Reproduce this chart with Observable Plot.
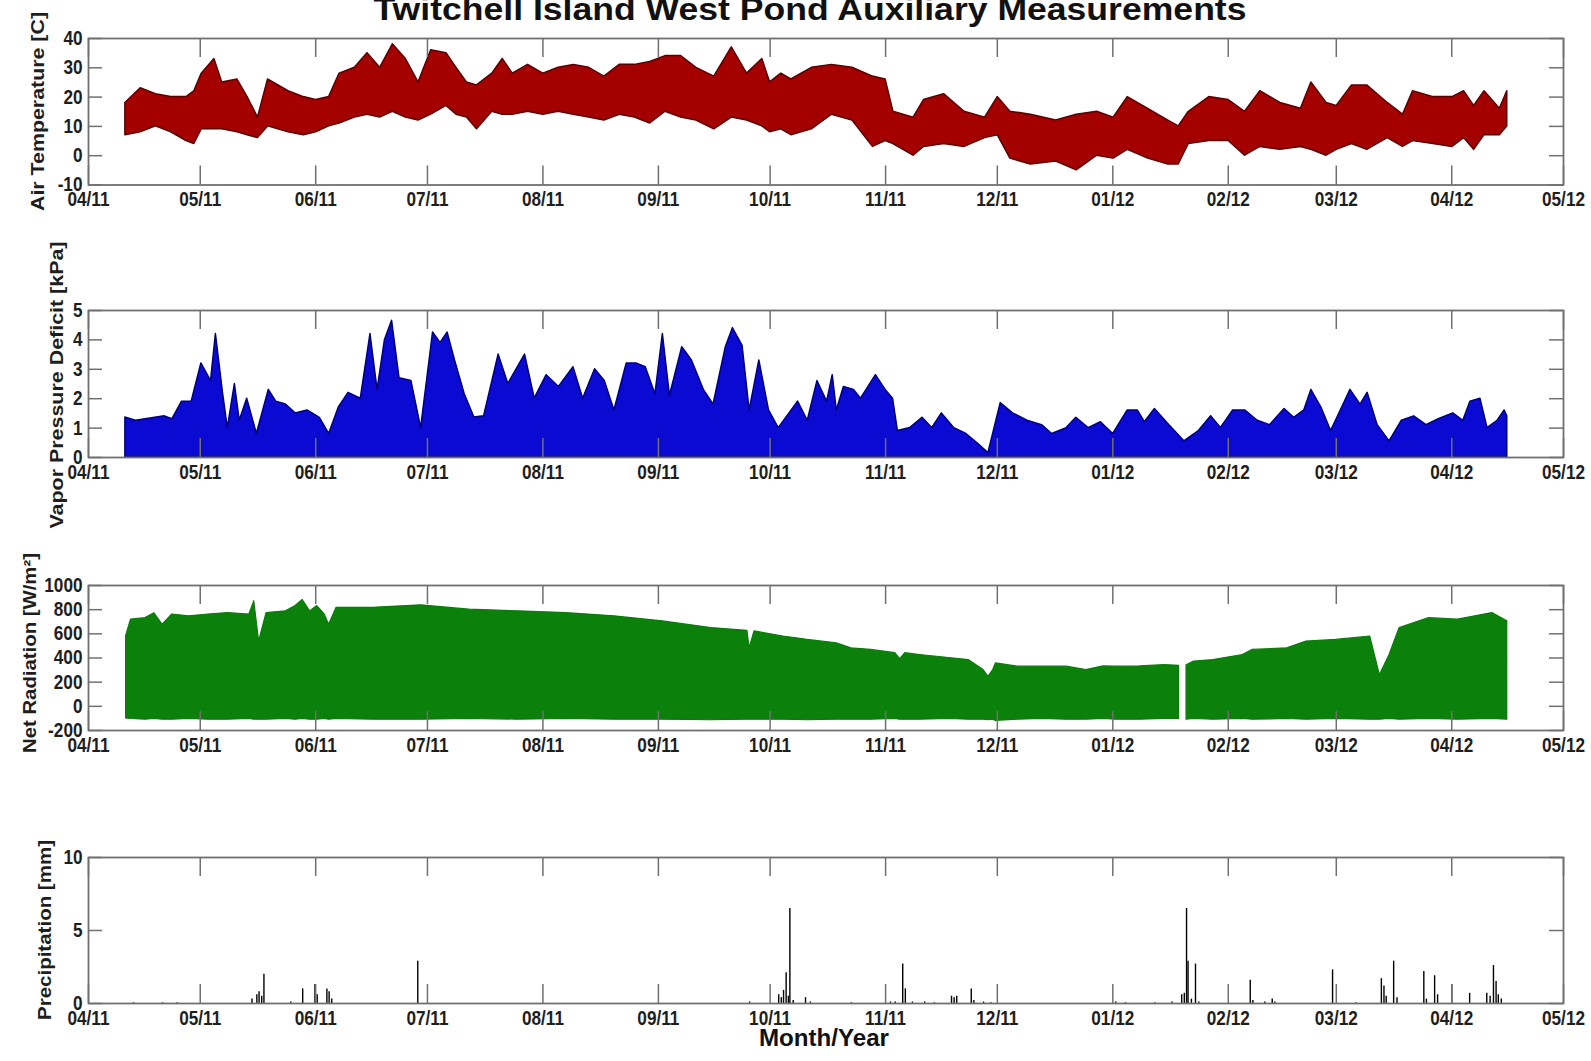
<!DOCTYPE html>
<html>
<head>
<meta charset="utf-8">
<script src="https://cdn.jsdelivr.net/npm/d3@7"></script>
<script src="https://cdn.jsdelivr.net/npm/@observablehq/plot@0.6"></script>
<style>
  html, body { margin: 0; padding: 0; background: #fff; }
  #page { position: relative; width: 1591px; height: 1061px; overflow: hidden; background: #fff; }
  #page svg { position: absolute; left: 0; }
</style>
</head>
<body>
<div id="page"></div>
<script>
// ---------------- DATA (days since 2011-04-01) ----------------
// Air temperature envelope: [day, low, high] (°C)
const airTemp = [
 [9.9,7,18],[14.0,8,23],[18.1,10,21],[22.2,8,20],[26.3,5,20],[28.4,4,22],[30.4,9,28],[33.8,9,33],[35.9,9,25],
 [40.0,8,26],[42.7,7,20],[45.5,6,13],[48.2,10,26],[53.7,8,22],[57.8,7,20],[61.1,8,19],[64.6,10,20],[67.4,11,28],
 [71.5,13,30],[74.9,14,35],[78.3,13,30],[81.7,15,38],[85.2,13,33],[88.6,12,25],[92.0,14,36],[96.1,17,35],[98.8,14,30],
 [101.6,13,25],[104.3,9,24],[108.4,15,28],[111.2,14,33],[113.9,14,28],[118.0,15,31],[122.1,14,28],[126.2,15,30],
 [130.3,14,31],[134.4,13,30],[138.5,12,27],[142.6,14,31],[146.7,13,31],[150.8,11,32],[154.9,15,34],[159.1,13,34],
 [163.2,12,30],[168.0,9,27],[172.7,13,37],[176.8,12,28],[180.9,10,33],[183.0,8,25],[186.0,9,28],[188.7,7,26],
 [194.2,9,30],[199.6,14,31],[205.1,12,30],[210.6,3,27],[214.0,5,26],[216.1,4,15],[221.5,0,13],[224.3,3,19],
 [229.7,4,21],[235.2,3,15],[240.7,6,13],[244.1,7,20],[247.5,-1,15],[253.0,-3,14],[259.8,-2,12],[265.3,-5,14],
 [270.8,0,15],[275.2,-1,13],[279.0,2,20],[284.5,-1,16],[289.9,-3,12],[292.7,-3,10],[295.4,4,15],[300.9,5,20],
 [306.1,5,19],[310.5,0,15],[314.6,3,22],[320.0,2,18],[325.5,3,16],[328.3,2,25],[332.4,0,18],[335.1,2,17],
 [339.2,4,24],[343.3,2,24],[348.8,6,18],[352.9,3,14],[355.6,5,22],[361.1,4,20],[366.2,3,20],[369.3,6,22],
 [372.0,2,17],[374.8,7,22],[378.9,7,16],[380.9,10,22]
];

// Vapor pressure deficit upper envelope: [day, high] (kPa)
const vpd = [
 [9.9,1.36],[12.7,1.25],[15.3,1.3],[17.9,1.35],[20.5,1.4],[22.5,1.3],[25.1,1.9],[27.7,1.9],[30.3,3.2],[32.9,2.6],
 [34.2,4.2],[36.1,2.2],[37.4,1.0],[39.3,2.5],[40.6,1.25],[42.6,2.0],[45.2,0.8],[48.4,2.3],[50.4,1.9],[53.0,1.8],
 [55.6,1.5],[58.8,1.6],[62.1,1.35],[64.6,0.8],[67.2,1.7],[69.8,2.2],[73.1,2.0],[75.7,4.2],[77.6,2.3],[79.6,4.0],
 [81.5,4.65],[83.5,2.7],[86.7,2.6],[89.3,1.0],[92.5,4.25],[94.5,3.9],[96.4,4.25],[98.4,3.3],[101.0,2.15],[103.6,1.36],
 [106.2,1.4],[110.1,3.5],[112.7,2.5],[117.2,3.5],[119.8,2.0],[123.0,2.8],[126.3,2.4],[130.2,3.07],[132.8,2.0],
 [136.0,3.0],[138.6,2.6],[141.2,1.6],[144.5,3.2],[147.1,3.2],[149.6,3.07],[152.2,2.15],[154.2,4.2],[156.1,2.1],
 [159.4,3.75],[162.0,3.3],[165.2,2.3],[167.8,1.8],[171.1,3.75],[173.0,4.4],[175.6,3.8],[177.5,1.6],[180.1,3.3],
 [182.7,1.6],[185.3,1.0],[190.5,1.9],[193.1,1.25],[195.7,2.6],[198.3,1.9],[199.8,2.8],[200.9,1.6],[202.8,2.4],
 [205.5,2.3],[207.4,2.0],[209.4,2.4],[211.4,2.8],[214.0,2.3],[216.0,2.0],[217.3,0.9],[220.6,1.0],[223.9,1.35],
 [226.5,1.0],[229.1,1.5],[232.4,1.0],[235.7,0.8],[239.0,0.45],[241.6,0.15],[244.9,1.85],[248.2,1.5],[252.1,1.25],
 [256.0,1.1],[258.7,0.8],[262.6,1.0],[265.2,1.35],[268.5,1.0],[271.8,1.2],[275.1,0.8],[279.0,1.6],[281.7,1.6],
 [283.6,1.2],[286.3,1.65],[290.2,1.1],[294.2,0.55],[298.1,0.9],[301.4,1.4],[304.0,1.0],[307.3,1.6],[310.6,1.6],
 [313.9,1.25],[317.2,1.1],[321.1,1.65],[323.7,1.35],[326.4,1.6],[328.3,2.3],[331.0,1.7],[333.6,0.9],[336.2,1.6],
 [338.8,2.3],[341.5,1.8],[343.4,2.2],[346.1,1.1],[349.3,0.55],[352.6,1.25],[355.9,1.4],[359.2,1.1],[362.5,1.3],
 [366.4,1.5],[369.1,1.25],[371.0,1.9],[373.7,2.0],[375.6,1.0],[378.3,1.25],[380.2,1.6],[380.9,1.4]
];

// Net radiation envelope: [day, low, high] (W/m²); null = no data
const netRad = [
 [10.1,-100,580],[11.4,-105,717],[15.3,-110,730],[17.7,-105,770],[19.9,-110,675],[22.5,-110,760],[27.0,-105,745],
 [32.2,-110,760],[37.4,-110,772],[43.2,-105,760],[44.5,-110,870],[45.8,-110,535],[47.8,-110,772],[53.0,-105,786],
 [55.6,-110,830],[57.5,-105,880],[59.5,-110,786],[61.4,-110,830],[63.4,-105,760],[64.6,-110,675],[66.6,-105,815],
 [76.3,-110,815],[89.3,-110,836],[102.3,-105,800],[115.3,-110,786],[128.2,-105,772],[141.2,-110,745],[154.2,-110,703],
 [167.2,-115,648],[176.9,-110,625],[177.5,-110,480],[178.8,-110,620],[186.6,-110,578],[193.1,-115,550],
 [200.9,-110,522],[204.8,-110,480],[210.1,-110,467],[216.6,-105,440],[217.9,-110,390],[219.3,-110,440],
 [223.2,-110,425],[231.1,-105,400],[236.3,-110,383],[240.3,-110,300],[241.6,-115,245],[242.9,-110,300],
 [243.6,-120,355],[249.5,-110,328],[256.0,-105,328],[262.6,-110,328],[267.9,-110,300],[272.5,-105,330],
 [275.8,-110,328],[282.3,-110,330],[288.9,-105,342],[292.8,-105,335],[293.8,null,null],[294.8,-110,340],
 [296.8,-105,370],[302.0,-110,383],[309.9,-105,425],[312.6,-110,467],[321.8,-105,480],[327.0,-110,536],
 [334.9,-105,550],[344.1,-110,578],[346.7,-110,258],[349.3,-105,425],[352.0,-110,648],[359.9,-105,730],
 [367.7,-110,717],[376.9,-105,772],[380.9,-110,703]
];

// Precipitation: [day, mm]
const precip = [
 [12.1,0.05],[19.9,0.05],[23.8,0.05],[43.9,0.3],[45.2,0.6],[45.8,0.8],[46.5,0.5],[47.1,2.0],[54.3,0.1],[57.5,1.0],
 [60.8,1.3],[61.4,0.6],[64.0,1.0],[64.6,0.8],[65.3,0.3],[88.4,2.9],[177.5,0.1],[185.3,0.6],[186.0,0.4],[186.6,0.9],
 [187.3,2.1],[187.9,0.5],[188.3,6.5],[189.2,0.2],[192.5,0.4],[193.8,0.1],[204.8,0.05],[215.3,0.1],[216.6,0.1],
 [218.6,2.7],[219.3,1.0],[221.2,0.1],[224.5,0.1],[227.1,0.05],[231.7,0.5],[232.4,0.4],[233.1,0.5],[237.0,1.0],
 [237.7,0.2],[240.3,0.1],[242.3,0.05],[275.8,0.1],[278.4,0.05],[286.3,0.05],[290.9,0.1],[293.5,0.6],[294.2,0.7],
 [294.8,6.5],[295.2,2.9],[296.1,0.3],[297.2,2.7],[298.1,0.1],[311.9,1.6],[312.6,0.2],[315.8,0.1],[317.8,0.3],
 [318.5,0.1],[334.0,2.3],[340.2,0.05],[347.1,1.7],[347.8,1.2],[348.4,0.5],[350.4,2.9],[351.3,0.4],[358.5,2.2],
 [359.2,0.3],[361.4,1.9],[362.2,0.6],[366.0,1.3],[370.8,0.7],[375.4,0.7],[376.3,0.5],[377.2,2.6],[377.9,1.5],
 [378.5,0.6],[379.3,0.3]
];

const tempTicks = [-10, 0, 10, 20, 30, 40];
const vpdTicks = [0, 1, 2, 3, 4, 5];
const radTicks = [-200, 0, 200, 400, 600, 800, 1000];
const precipTicks = [0, 5, 10];

const titleText = "Twitchell Island West Pond Auxiliary Measurements";
const xLabelText = "Month/Year";
const yLabels = ["Air Temperature  [C]", "Vapor Pressure Deficit  [kPa]", "Net Radiation  [W/m\u00B2]", "Precipitation [mm]"];

// ---------------- LAYOUT ----------------
const W = 1591, H = 1061;
const X0 = 88, X1 = 1563;
const T0 = Date.UTC(2011, 3, 1);
const toDate = d => new Date(T0 + d * 864e5);
const monthTicks = d3.utcMonth.range(new Date(Date.UTC(2011, 3, 1)), new Date(Date.UTC(2012, 4, 2)));
const fmt = d3.utcFormat("%m/%y");
const page = document.getElementById("page");
const AX = "#707070";

function squeeze(svg, k) {
  svg.querySelectorAll('g[aria-label$="tick label"] text').forEach(t => {
    const tr = t.getAttribute("transform");
    if (tr) t.setAttribute("transform", tr + ` scale(${k},1)`);
    else {
      const x = +t.getAttribute("x") || 0;
      t.setAttribute("transform", `translate(${x},0) scale(${k},1) translate(${-x},0)`);
    }
  });
}

function panel({top, bottom, domain, ticks, marks}) {
  const mt = 2, mb = 34;
  const h = bottom - top;
  const tlx = 19, tly = 14;
  const svg = Plot.plot({
    width: W, height: h + mt + mb,
    marginLeft: X0, marginRight: W - X1, marginTop: mt, marginBottom: mb,
    x: {type: "utc", domain: [new Date(T0), new Date(Date.UTC(2012, 4, 1))]},
    y: {domain, ticks},
    style: {fontFamily: '"Liberation Sans", Arial, sans-serif', fontSize: "20px", fontWeight: "bold", color: "#1e1e1e", background: "transparent", overflow: "visible"},
    marks: [
      ...marks,
      Plot.tickX(monthTicks, {x: d => d, insetBottom: h - tlx, stroke: AX, strokeWidth: 1.5}),
      Plot.tickX(monthTicks, {x: d => d, insetTop: h - tlx, stroke: AX, strokeWidth: 1.5}),
      Plot.tickY(ticks, {y: d => d, insetRight: (X1 - X0) - tly, stroke: AX, strokeWidth: 1.5}),
      Plot.tickY(ticks, {y: d => d, insetLeft: (X1 - X0) - tly, stroke: AX, strokeWidth: 1.5}),
      Plot.frame({stroke: AX, strokeWidth: 1.8}),
      Plot.axisX({ticks: monthTicks, tickFormat: fmt, tickSize: 0, tickPadding: 7, label: null}),
      Plot.axisY({ticks, tickFormat: d => String(d), tickSize: 0, tickPadding: 6, label: null})
    ]
  });
  squeeze(svg, 0.86);
  svg.style.top = (top - mt) + "px";
  page.appendChild(svg);
}

panel({
  top: 37.5, bottom: 184, domain: [-10, 40], ticks: tempTicks,
  marks: [Plot.areaY(airTemp, {x: d => toDate(d[0]), y1: d => d[1], y2: d => d[2], fill: "#a40000", stroke: "#5a0000", strokeWidth: 1.5, clip: true})]
});
panel({
  top: 310, bottom: 457, domain: [0, 5], ticks: vpdTicks,
  marks: [Plot.areaY(vpd, {x: d => toDate(d[0]), y1: 0, y2: d => d[1], fill: "#0a0ad2", stroke: "#00007a", strokeWidth: 1.5, clip: true})]
});
panel({
  top: 585, bottom: 730, domain: [-200, 1000], ticks: radTicks,
  marks: [Plot.areaY(netRad, {x: d => toDate(d[0]), y1: d => d[1], y2: d => d[2], fill: "#0b800b", stroke: "#0b7a0b", strokeWidth: 1.2, clip: true})]
});
panel({
  top: 857, bottom: 1003, domain: [0, 10], ticks: precipTicks,
  marks: [Plot.ruleX(precip, {x: d => toDate(d[0]), y1: 0, y2: d => d[1], stroke: "#000", strokeWidth: 1.4, clip: true})]
});

// ---------------- TEXT OVERLAY ----------------
const ns = "http://www.w3.org/2000/svg";
const ov = document.createElementNS(ns, "svg");
ov.setAttribute("width", W); ov.setAttribute("height", H);
ov.style.top = "0px";
ov.style.fontFamily = '"Liberation Sans", Arial, sans-serif';
ov.style.fontWeight = "bold";
page.appendChild(ov);
function addText(str, attrs) {
  const t = document.createElementNS(ns, "text");
  for (const k in attrs) t.setAttribute(k, attrs[k]);
  t.textContent = str;
  ov.appendChild(t);
}
addText(titleText, {x: 810, y: 20, "text-anchor": "middle", "font-size": 31, fill: "#111", textLength: 873, lengthAdjust: "spacingAndGlyphs"});
addText(xLabelText, {x: 824, y: 1046, "text-anchor": "middle", "font-size": 23, fill: "#111", textLength: 130, lengthAdjust: "spacingAndGlyphs"});
const yl = [
  {x: 38, y: 111.5, len: 199},
  {x: 57, y: 385, len: 287},
  {x: 30, y: 653, len: 200},
  {x: 45, y: 930, len: 180}
];
yLabels.forEach((s, i) => {
  addText(s, {transform: `translate(${yl[i].x},${yl[i].y}) rotate(-90)`, "text-anchor": "middle", dy: "0.36em", "font-size": 18, fill: "#1e1e1e", textLength: yl[i].len, lengthAdjust: "spacingAndGlyphs"});
});
</script>
</body>
</html>
